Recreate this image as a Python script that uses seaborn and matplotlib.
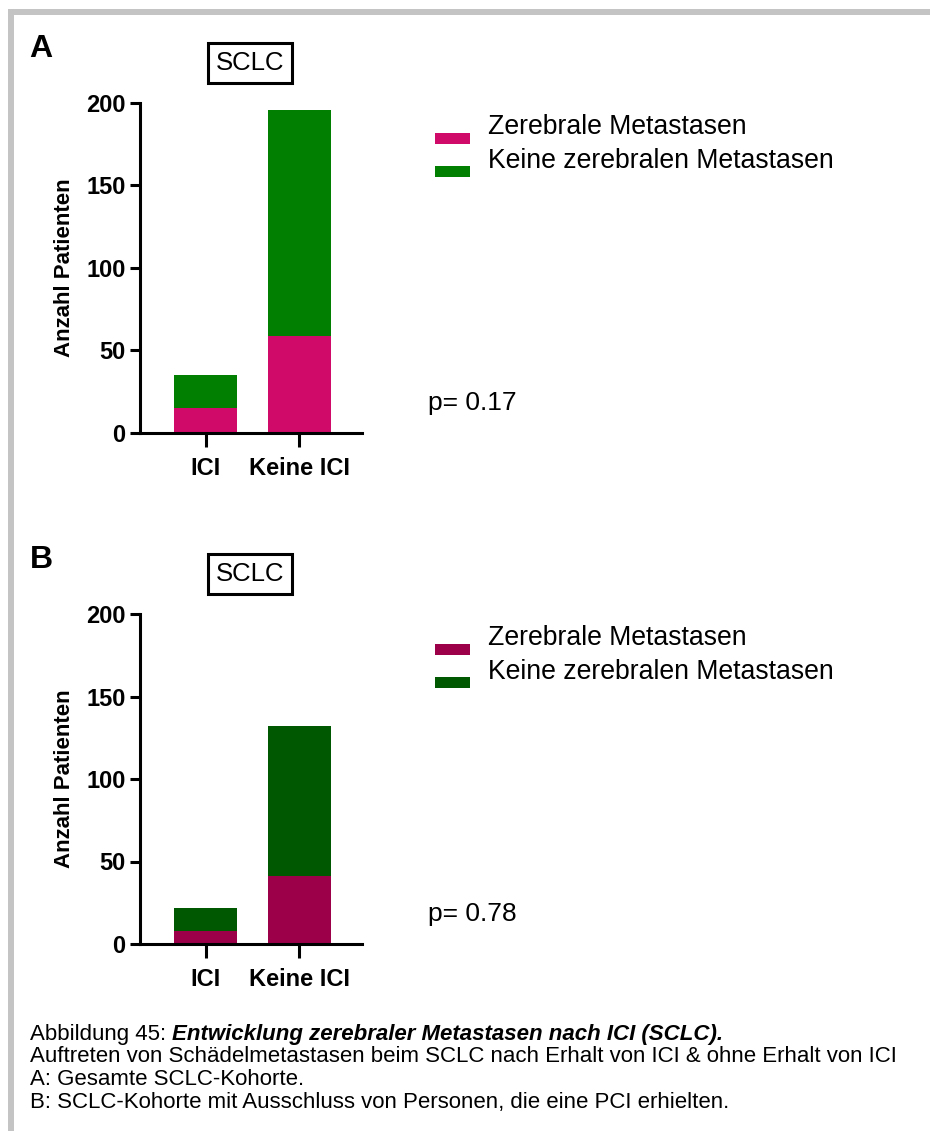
import matplotlib
matplotlib.use("Agg")
import matplotlib.pyplot as plt
import seaborn as sns
import pandas as pd
from matplotlib.patches import Rectangle

# ---- data -------------------------------------------------------------
groups = ["ICI", "Keine ICI"]

# A: gesamte SCLC-Kohorte
a_zerebral = [15, 59]
a_keine = [20, 137]

# B: SCLC-Kohorte ohne PCI
b_zerebral = [8, 41]
b_keine = [14, 91]

legend_labels = ["Zerebrale Metastasen", "Keine zerebralen Metastasen"]
panel_letters = ["A", "B"]
panel_titles = ["SCLC", "SCLC"]
p_texts = ["p= 0.17", "p= 0.78"]
y_ticks = [0, 50, 100, 150, 200]
y_label = "Anzahl Patienten"

colors_a = ["#D00A68", "#007F00"]
colors_b = ["#9B0048", "#005800"]

caption_lead = "Abbildung 45: "
caption_title = "Entwicklung zerebraler Metastasen nach ICI (SCLC)."
caption_lines = [
    "Auftreten von Schädelmetastasen beim SCLC nach Erhalt von ICI & ohne Erhalt von ICI",
    "A: Gesamte SCLC-Kohorte.",
    "B: SCLC-Kohorte mit Ausschluss von Personen, die eine PCI erhielten.",
]

# ---- figure -----------------------------------------------------------
sns.set_style("white")
plt.rcParams["font.family"] = ["Liberation Sans", "DejaVu Sans"]
for key in ["text.color", "axes.labelcolor", "xtick.color", "ytick.color"]:
    plt.rcParams[key] = "black"

W, H = 930, 1131
fig = plt.figure(figsize=(W / 100, H / 100), dpi=100)


def fx(x):
    return x / W


def fy(y):
    return 1 - y / H


# light grey frame lines (top and left)
fig.add_artist(Rectangle((fx(8), fy(15)), fx(930 - 8), 6 / H,
                         transform=fig.transFigure, color="#C4C4C4", lw=0))
fig.add_artist(Rectangle((fx(8), 0), fx(6), fy(9),
                         transform=fig.transFigure, color="#C4C4C4", lw=0))


def draw_panel(dy, zerebral, keine, colors, letter, title, ptext):
    totals = [z + k for z, k in zip(zerebral, keine)]
    ax = fig.add_axes([fx(140), fy(433 + dy), fx(222), 330 / H])
    df = pd.DataFrame({"Gruppe": groups, "Gesamt": totals, "Zerebral": zerebral})
    sns.barplot(data=df, x="Gruppe", y="Gesamt", color=colors[1], saturation=1,
                width=0.67, ax=ax, linewidth=0)
    sns.barplot(data=df, x="Gruppe", y="Zerebral", color=colors[0], saturation=1,
                width=0.67, ax=ax, linewidth=0)
    ax.set_xlim(-0.70, 1.67)
    ax.set_ylim(0, 200)
    ax.set_yticks(y_ticks)
    ax.set_yticklabels([str(t) for t in y_ticks], fontsize=17, fontweight="bold")
    ax.set_xticks([0, 1])
    ax.set_xticklabels(groups, fontsize=17, fontweight="bold")
    ax.set_xlabel("")
    ax.set_ylabel(y_label, fontsize=16, fontweight="bold", labelpad=8)
    for s in ["top", "right"]:
        ax.spines[s].set_visible(False)
    for s in ["left", "bottom"]:
        ax.spines[s].set_linewidth(2.2)
        ax.spines[s].set_color("black")
    ax.tick_params(axis="y", direction="out", length=7.5, width=2.2, pad=3, left=True)
    ax.tick_params(axis="x", direction="out", length=10, width=2.2, pad=7, bottom=True)
    ax.patch.set_alpha(0)

    # panel letter
    fig.text(fx(41), fy(49 + dy), letter, fontsize=23, fontweight="bold",
             ha="center", va="center")
    # boxed title
    fig.text(fx(250), fy(63 + dy), title, fontsize=18.5, ha="center", va="center",
             bbox=dict(boxstyle="square,pad=0.3", fc="white", ec="black", lw=2.2))

    # legend entries
    rows = [(138 + dy, 127 + dy), (171 + dy, 161 + dy)]
    for (py, ty), col, lab in zip(rows, colors, legend_labels):
        fig.add_artist(Rectangle((fx(435), fy(py + 5.5)), fx(35), 11 / H,
                                 transform=fig.transFigure, color=col, lw=0))
        fig.text(fx(488), fy(ty), lab, fontsize=19.2, ha="left", va="center")

    # p-value
    fig.text(fx(428), fy(403 + dy), ptext, fontsize=19, ha="left", va="center")


draw_panel(0, a_zerebral, a_keine, colors_a, panel_letters[0], panel_titles[0], p_texts[0])
draw_panel(511, b_zerebral, b_keine, colors_b, panel_letters[1], panel_titles[1], p_texts[1])

# ---- caption ----------------------------------------------------------
cap_size = 16
t0 = fig.text(fx(30), fy(1040), caption_lead, fontsize=cap_size, ha="left",
              va="baseline")
fig.canvas.draw()
bb = t0.get_window_extent(renderer=fig.canvas.get_renderer())
fig.text(bb.x1 / W, fy(1040), caption_title, fontsize=cap_size, ha="left",
         va="baseline", fontweight="bold", fontstyle="italic")
for i, line in enumerate(caption_lines):
    fig.text(fx(30), fy(1062 + 23 * i), line, fontsize=cap_size, ha="left",
             va="baseline")

fig.savefig("out.png", dpi=100)
